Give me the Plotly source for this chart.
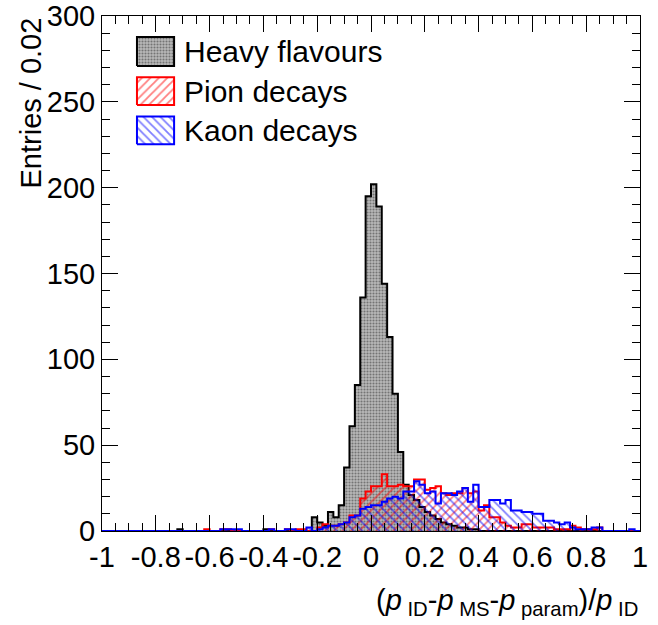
import numpy as np
import plotly.graph_objects as go

# Binning: 100 bins of width 0.02 between -1 and 1
bin_lo, bin_hi, n_bins = -1.0, 1.0, 100
edges = np.linspace(bin_lo, bin_hi, n_bins + 1)

# Heavy-flavour entries per bin
heavy = [0] * 100
for k, v in {14: 1, 30: 1, 39: 8, 40: 5, 41: 3, 42: 11, 43: 8, 44: 15, 45: 37,
             46: 61, 47: 85, 48: 136, 49: 195, 50: 202, 51: 189, 52: 144,
             53: 113, 54: 80, 55: 46, 56: 27, 57: 21, 58: 18, 59: 14, 60: 11,
             61: 9, 62: 7, 63: 5, 64: 4, 65: 3, 66: 2, 67: 2, 68: 1, 69: 1}.items():
    heavy[k] = v

# Pion-decay entries per bin
pion = [0] * 100
for k, v in {19: 1, 22: 1, 23: 1, 31: 1, 34: 1, 36: 1, 37: 1, 40: 2, 41: 4,
             42: 3, 43: 3, 44: 4, 45: 5, 46: 9, 47: 9, 48: 19, 49: 23, 50: 26,
             51: 26, 52: 33, 53: 26, 54: 26, 55: 27, 56: 26, 57: 26, 58: 30,
             59: 30, 60: 24, 61: 25, 62: 26, 63: 22, 64: 21, 65: 22, 66: 22,
             67: 25, 68: 22, 69: 23, 70: 12, 71: 15, 72: 8, 73: 8, 74: 5,
             75: 3, 76: 2, 77: 2, 78: 4, 79: 4, 80: 2, 81: 2, 82: 2, 83: 2,
             84: 1, 85: 1, 86: 1, 87: 3, 88: 2, 89: 1, 90: 1, 91: 1, 92: 2}.items():
    pion[k] = v

# Kaon-decay entries per bin
kaon = [0] * 100
for k, v in {22: 1, 23: 1, 24: 1, 25: 1, 31: 1, 34: 1, 35: 1, 38: 2, 40: 1,
             41: 2, 42: 3, 43: 3, 44: 4, 45: 5, 46: 8, 47: 9, 48: 13, 49: 14,
             50: 15, 51: 15, 52: 17, 53: 19, 54: 20, 55: 19, 56: 23, 57: 23,
             58: 29, 59: 27, 60: 22, 61: 23, 62: 16, 63: 22, 64: 22, 65: 21,
             66: 23, 67: 25, 68: 17, 69: 27, 70: 14, 71: 14, 72: 18, 73: 18,
             74: 16, 75: 18, 76: 12, 77: 12, 78: 11, 79: 11, 80: 10, 81: 10,
             82: 6, 83: 6, 84: 5, 85: 4, 86: 5, 87: 2, 88: 1, 89: 1, 90: 1,
             91: 2, 92: 2, 98: 1}.items():
    kaon[k] = v

labels = ["Heavy flavours", "Pion decays", "Kaon decays"]
x_ticks = [-1, -0.8, -0.6, -0.4, -0.2, 0, 0.2, 0.4, 0.6, 0.8, 1]
x_ticktext = ["-1", "-0.8", "-0.6", "-0.4", "-0.2", "0", "0.2", "0.4", "0.6", "0.8", "1"]
y_ticks = [0, 50, 100, 150, 200, 250, 300]

FONT = "Liberation Sans, Arial, sans-serif"
FS = 29

styles = [
    dict(line="black", pattern=dict(shape=".", bgcolor="#b8b8b8", fgcolor="#303030",
                                    size=3, solidity=0.4)),
    dict(line="#ff0000", pattern=dict(shape="/", bgcolor="rgba(0,0,0,0)", fgcolor="#ff0000",
                                      size=6, solidity=0.3)),
    dict(line="#0000ff", pattern=dict(shape="\\", bgcolor="rgba(0,0,0,0)", fgcolor="#0000ff",
                                      size=6, solidity=0.3)),
]

fig = go.Figure()

# Step histograms: filled area under the step outline
for vals, st in zip([heavy, pion, kaon], styles):
    ys = list(vals) + [vals[-1]]
    fig.add_trace(go.Scatter(
        x=edges, y=ys, mode="lines", line=dict(color=st["line"], width=2, shape="hv"),
        fill="tozeroy", fillcolor="rgba(0,0,0,0)", fillpattern=st["pattern"],
        showlegend=False, hoverinfo="skip"))

# Legend drawn on an overlay axis spanning the plot area in [0, 1]
box_x0, box_x1 = 0.065, 0.134
box_rows = [(0.903, 0.959), (0.827, 0.881), (0.751, 0.805)]
for lab, st, (y0, y1) in zip(labels, styles, box_rows):
    fig.add_trace(go.Scatter(
        x=[box_x0, box_x1, box_x1, box_x0, box_x0], y=[y0, y0, y1, y1, y0],
        xaxis="x2", yaxis="y2", mode="lines", fill="toself",
        fillcolor="rgba(0,0,0,0)", fillpattern=st["pattern"],
        line=dict(color=st["line"], width=2), showlegend=False, hoverinfo="skip"))
    fig.add_annotation(x=0.149, y=(y0 + y1) / 2, xref="x2", yref="y2", text=lab,
                       showarrow=False, xanchor="left", yanchor="middle",
                       font=dict(family=FONT, size=30, color="black"))

fig.update_layout(
    width=658, height=625,
    margin=dict(l=102, r=18, t=16, b=94, autoexpand=False),
    paper_bgcolor="white", plot_bgcolor="white",
    font=dict(family=FONT, size=FS, color="black"),
    xaxis=dict(range=[bin_lo, bin_hi], tickvals=x_ticks, ticktext=x_ticktext,
               ticks="inside", ticklen=16, tickwidth=1, tickcolor="black",
               minor=dict(dtick=0.05, ticks="inside", ticklen=8, tickcolor="black"),
               showline=True, linecolor="black", linewidth=1, mirror="ticks",
               showgrid=False, zeroline=False, automargin=False, tickfont=dict(size=FS)),
    yaxis=dict(range=[0, 300], tickvals=y_ticks,
               ticks="inside", ticklen=16, tickwidth=1, tickcolor="black",
               minor=dict(dtick=10, ticks="inside", ticklen=8, tickcolor="black"),
               showline=True, linecolor="black", linewidth=1, mirror="ticks",
               showgrid=False, zeroline=False, automargin=False, tickfont=dict(size=FS)),
    xaxis2=dict(overlaying="x", range=[0, 1], visible=False, fixedrange=True),
    yaxis2=dict(overlaying="y", range=[0, 1], visible=False, fixedrange=True),
    showlegend=False,
)

# Axis titles, right/top aligned
fig.add_annotation(
    text="(<i>p</i><sub> ID</sub>-<i>p</i><sub> MS</sub>-<i>p</i><sub> param</sub>)/<i>p</i><sub> ID</sub>",
    xref="paper", yref="paper", x=1, y=0, xanchor="right", yanchor="bottom",
    yshift=-91, showarrow=False, font=dict(family=FONT, size=FS))
fig.add_annotation(
    text="Entries / 0.02", xref="paper", yref="paper", x=0, y=1,
    xanchor="center", yanchor="top", xshift=-72, yshift=0, textangle=-90,
    showarrow=False, font=dict(family=FONT, size=FS))

fig.write_html("out.html")
